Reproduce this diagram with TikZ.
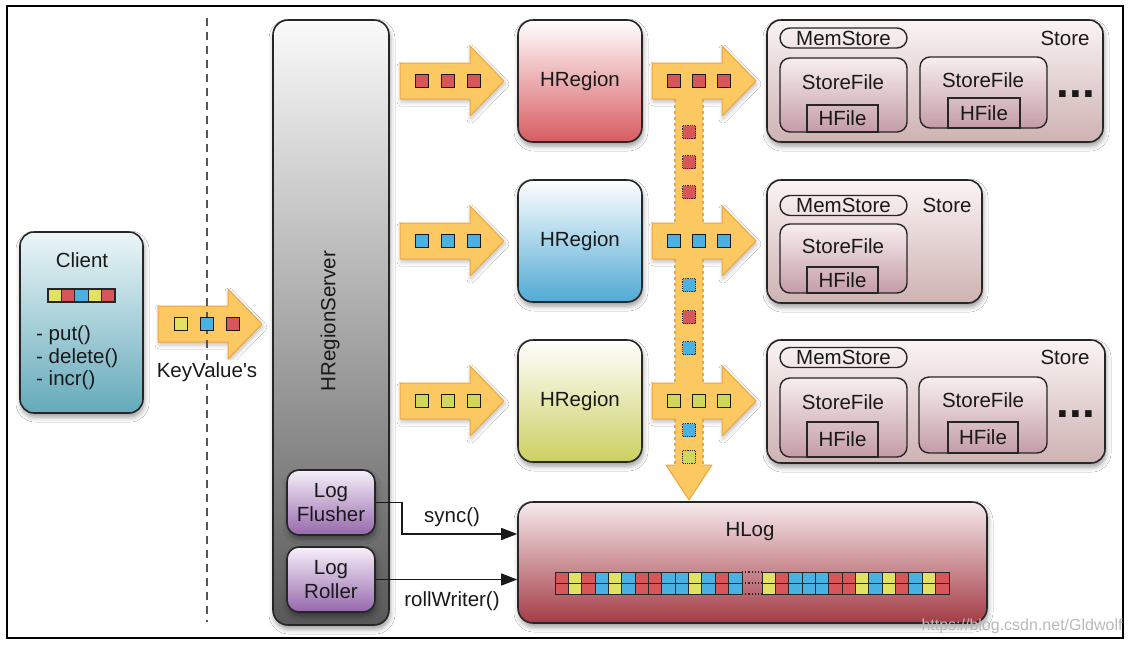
\documentclass[tikz,border=0pt]{standalone}
\usepackage{fontspec}
\setmainfont{Liberation Sans}[Ligatures=TeXOff]
\usetikzlibrary{arrows.meta,shadows.blur,calc}

\definecolor{txt}{RGB}{25,25,25}
\definecolor{afill}{RGB}{251,200,98}
\definecolor{aline}{RGB}{238,165,62}
\definecolor{cred}{RGB}{214,86,90}
\definecolor{cblue}{RGB}{74,178,226}
\definecolor{cyel}{RGB}{226,226,98}
\definecolor{cgrn}{RGB}{208,216,90}
\definecolor{clienttop}{RGB}{236,246,248}
\definecolor{clientbot}{RGB}{100,170,186}
\definecolor{hredbot}{RGB}{214,92,96}
\definecolor{hbluebot}{RGB}{80,170,212}
\definecolor{hyelbot}{RGB}{204,208,96}
\definecolor{storetop}{RGB}{250,244,243}
\definecolor{storebot}{RGB}{206,178,178}
\definecolor{sftop}{RGB}{247,238,238}
\definecolor{sfbot}{RGB}{196,156,168}
\definecolor{hlogtop}{RGB}{246,234,236}
\definecolor{hlogbot}{RGB}{164,60,70}
\definecolor{logtop}{RGB}{246,240,250}
\definecolor{logbot}{RGB}{150,104,172}
\definecolor{srvtop}{RGB}{250,250,250}
\definecolor{srvbot}{RGB}{88,88,88}
\definecolor{dashgray}{RGB}{85,85,85}
\definecolor{wmark}{RGB}{185,185,185}

\tikzset{
  boxbase/.style={draw=black!85, line width=1.6pt, inner sep=0pt,
    blur shadow={shadow xshift=1pt, shadow yshift=-4pt, shadow blur radius=5pt, shadow opacity=40}},
  lbl/.style={font=\fontsize{20.5}{24}\selectfont, text=txt, inner sep=0pt},
  kv/.style={draw=black!90, line width=1.7pt, minimum size=13pt, inner sep=0pt},
  kvdot/.style={draw=black!85, line width=1.2pt, densely dotted, minimum size=13pt, inner sep=0pt},
  conn/.style={line width=1.4pt, draw=black!90, -{Triangle[length=16pt,width=12pt]}},
  hreg/.style={boxbase, rounded corners=15pt, minimum width=124pt, minimum height=122pt,
    font=\fontsize{20.5}{24}\selectfont, text=txt, top color=white},
  logbox/.style={boxbase, rounded corners=12pt, minimum width=88pt, minimum height=65pt,
    top color=logtop, bottom color=logbot, align=center,
    font=\fontsize{20.5}{24}\selectfont, text=txt},
  store/.style={boxbase, rounded corners=14pt, top color=storetop, bottom color=storebot},
  mem/.style={draw=black!85, line width=1.4pt, rounded corners=10pt, minimum width=127pt,
    minimum height=20pt, inner sep=0pt, font=\fontsize{20.5}{24}\selectfont, text=txt},
  sfile/.style={draw=black!85, line width=1.4pt, rounded corners=10pt, top color=sftop,
    bottom color=sfbot, inner sep=0pt},
  hfile/.style={draw=black!85, line width=1.4pt, inner sep=0pt,
    font=\fontsize{20.5}{24}\selectfont, text=txt},
  dotsstyle/.style={font=\fontsize{46}{46}\selectfont\bfseries, text=txt, inner sep=0pt, anchor=base},
  fatarrow/.pic={\draw[draw=aline, fill=afill, line width=1pt, line join=round,
      blur shadow={shadow xshift=1pt, shadow yshift=-3pt, shadow blur radius=4pt, shadow opacity=25}]
      (0,-18) -- (70,-18) -- (70,-35) -- (104,0) -- (70,35) -- (70,18) -- (0,18) -- cycle;}
}

\begin{document}
\begin{tikzpicture}[x=1pt,y=-1pt]
\useasboundingbox (0,0) rectangle (1131,646);
\fill[white] (0,0) rectangle (1131,646);
\draw[line width=1.6pt] (7,6) rectangle (1123,638);

% Client
\node[boxbase, rounded corners=14pt, top color=clienttop, bottom color=clientbot,
      minimum width=123pt, minimum height=181pt] (client) at (81.5,322.5) {};
\node[lbl] (clientlbl) at (82,260) {Client};
\foreach \c [count=\i from 0] in {cyel,cred,cblue,cyel,cred}
  \filldraw[fill=\c, draw=black!85, line width=1.2pt] ({48+\i*13.4},289) rectangle ++(13.4,13);
\node[lbl, anchor=west] (put) at (36,335) {- put()};
\node[lbl, anchor=west] (del) at (36,358) {- delete()};
\node[lbl, anchor=west] (incr) at (36,380) {- incr()};

% KeyValue arrow and dashed separator
\pic (kvarrow) at (158,324) {fatarrow};
\coordinate (sepTop) at (207,18);
\coordinate (sepBot) at (207,622);
\draw[dashgray, line width=2pt, dash pattern=on 8pt off 6pt] (sepTop) -- (sepBot);
\node[kv, fill=cyel] (kv1) at (181,324) {};
\node[kv, fill=cblue] (kv2) at (207,324) {};
\node[kv, fill=cred] (kv3) at (233,324) {};
\node[lbl, fill=white, inner xsep=1pt, inner ysep=2pt] (kvlbl) at (207,372) {KeyValue's};

% HRegionServer
\node[boxbase, rounded corners=15pt, top color=srvtop, bottom color=srvbot,
      minimum width=116pt, minimum height=605pt] (srv) at (331,322.5) {};
\node[lbl, rotate=90] (srvlbl) at (330,321) {HRegionServer};
\node[logbox] (lf) at (331,502.5) {Log\\Flusher};
\node[logbox] (lr) at (331,579.5) {Log\\Roller};

% HLog
\node[boxbase, rounded corners=15pt, top color=hlogtop, bottom color=hlogbot,
      minimum width=469pt, minimum height=121pt] (hlog) at (752.5,562.5) {};
\node[lbl] (hloglbl) at (750,532) {HLog};
\foreach \c [count=\i from 0] in {cred,cyel,cred,cblue,cyel,cblue,cred,cred,cblue,cblue,cyel,cblue,cred,cblue}
  \filldraw[fill=\c, draw=black!85, line width=1pt] ({555+\i*13.36},572) rectangle ++(13.36,11)
     ({555+\i*13.36},583) rectangle ++(13.36,11);
\foreach \c [count=\i from 0] in {cyel,cred,cblue,cblue,cblue,cred,cred,cyel,cblue,cyel,cred,cblue,cyel,cred}
  \filldraw[fill=\c, draw=black!85, line width=1pt] ({762+\i*13.36},572) rectangle ++(13.36,11)
     ({762+\i*13.36},583) rectangle ++(13.36,11);
\draw[black!85, line width=1.2pt, dotted] (742,572) -- (762,572) (742,583) -- (762,583) (742,594) -- (762,594);

% connectors
\coordinate (syncbend) at (402,534);
\draw[conn] (lf.east) -| (syncbend) -- (syncbend -| hlog.west);
\draw[conn] (lr.east) -- (lr.east -| hlog.west);
\node[lbl] (synclbl) at (452,517) {sync()};
\node[lbl] (rolllbl) at (452,601) {rollWriter()};

% HRegions
\node[hreg, bottom color=hredbot] (hr1) at (580,81) {HRegion};
\node[hreg, bottom color=hbluebot] (hr2) at (580,241) {HRegion};
\node[hreg, bottom color=hyelbot] (hr3) at (580,401) {HRegion};

% arrows server -> regions
\foreach \y/\c/\n in {81/cred/a, 241/cblue/b, 401/cgrn/c} {
  \pic (la\n) at (400,\y) {fatarrow};
  \node[kv, fill=\c] (la\n1) at (422,\y) {};
  \node[kv, fill=\c] (la\n2) at (448,\y) {};
  \node[kv, fill=\c] (la\n3) at (474,\y) {};
}

% arrows regions -> stores
\foreach \y/\n in {81/a, 241/b, 401/c} {
  \pic (ra\n) at (652,\y) {fatarrow};
}
% vertical stem to HLog
\fill[afill] (675,90) rectangle (703,466);
\foreach \ya/\yb in {99/223, 259/383, 419/466}
  \draw[aline, line width=1.2pt, dashed] (675,\ya) -- (675,\yb) (703,\ya) -- (703,\yb);
\draw[aline, fill=afill, line width=1pt, line join=round]
  (675,465) -- (666,465) -- (689,500) -- (712,465) -- (703,465);
\foreach \y/\c/\n in {81/cred/a, 241/cblue/b, 401/cgrn/c} {
  \node[kv, fill=\c] (ra\n1) at (674,\y) {};
  \node[kv, fill=\c] (ra\n2) at (699,\y) {};
  \node[kv, fill=\c] (ra\n3) at (724,\y) {};
}
\foreach \y/\c [count=\i] in {132/cred, 162/cred, 192/cred, 285/cblue, 317/cred, 348/cblue, 430/cblue, 457/cgrn}
  \node[kvdot, fill=\c] (sq\i) at (689,\y) {};

% Stores
\node[store, minimum width=336pt, minimum height=122pt] (st1) at (935,81) {};
\node[store, minimum width=215pt, minimum height=123pt] (st2) at (874.5,241.5) {};
\node[store, minimum width=338pt, minimum height=123pt] (st3) at (936,401.5) {};

\node[mem] (ms1) at (843.5,38) {MemStore};
\node[mem] (ms2) at (843.5,205.5) {MemStore};
\node[mem] (ms3) at (843.5,357.5) {MemStore};
\node[lbl] (sl1) at (1065,38) {Store};
\node[lbl] (sl2) at (947,205) {Store};
\node[lbl] (sl3) at (1065,357) {Store};

% store 1 files
\node[sfile, minimum width=127pt, minimum height=74pt] (sf1a) at (843.5,95) {};
\node[lbl] (sf1albl) at (843,82) {StoreFile};
\node[hfile, minimum width=71pt, minimum height=27pt] (hf1a) at (842.5,118.5) {HFile};
\node[sfile, minimum width=127pt, minimum height=71pt] (sf1b) at (983.5,92.5) {};
\node[lbl] (sf1blbl) at (983,80) {StoreFile};
\node[hfile, minimum width=72pt, minimum height=30pt] (hf1b) at (984,113) {HFile};
\node[dotsstyle] (dots1) at (1076,97) {...};

% store 2 file
\node[sfile, minimum width=127pt, minimum height=69pt] (sf2a) at (843.5,258.5) {};
\node[lbl] (sf2albl) at (843,246) {StoreFile};
\node[hfile, minimum width=71pt, minimum height=26pt] (hf2a) at (842.5,280) {HFile};

% store 3 files
\node[sfile, minimum width=127pt, minimum height=79pt] (sf3a) at (843.5,417.5) {};
\node[lbl] (sf3albl) at (843,402) {StoreFile};
\node[hfile, minimum width=71pt, minimum height=35pt] (hf3a) at (842.5,439.5) {HFile};
\node[sfile, minimum width=128pt, minimum height=76pt] (sf3b) at (983,415) {};
\node[lbl] (sf3blbl) at (983,400) {StoreFile};
\node[hfile, minimum width=70pt, minimum height=31pt] (hf3b) at (983,437.5) {HFile};
\node[dotsstyle] (dots3) at (1076,417) {...};

% watermark
\node[font=\fontsize{16}{18}\selectfont, text=wmark, inner sep=0pt] (wm) at (1022,626) {https://blog.csdn.net/Gldwolf};
\end{tikzpicture}
\end{document}
